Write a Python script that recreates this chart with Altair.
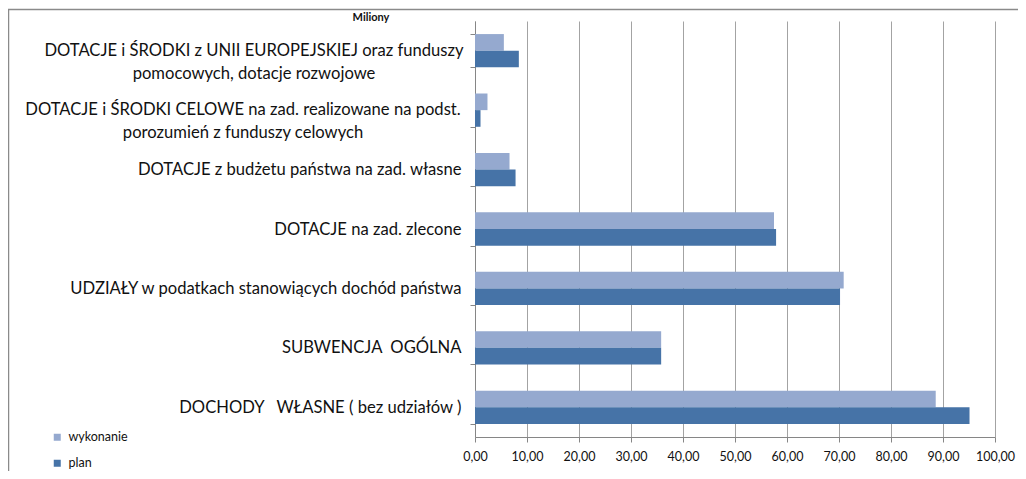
import altair as alt
import pandas as pd

categories = [
    "DOTACJE i ŚRODKI z UNII EUROPEJSKIEJ oraz funduszy|pomocowych, dotacje rozwojowe",
    "DOTACJE i ŚRODKI CELOWE na zad. realizowane na podst.|porozumień z funduszy celowych",
    "DOTACJE z budżetu państwa na zad. własne\u00a0",
    "DOTACJE na zad. zlecone",
    "UDZIAŁY w podatkach stanowiących dochód państwa",
    "SUBWENCJA\u00a0 OGÓLNA\u00a0",
    "DOCHODY\u00a0\u00a0 WŁASNE ( bez udziałów )",
]
series = ["wykonanie", "plan"]
wykonanie = [5.55, 2.4, 6.64, 57.5, 70.9, 35.8, 88.6]
plan = [8.43, 1.06, 7.8, 57.9, 70.2, 35.8, 95.1]
x_ticks = list(range(0, 101, 10))
unit_label = ["Miliony"]

rows = []
for c, w, p in zip(categories, wykonanie, plan):
    rows.append({"cat": c, "series": "wykonanie", "value": w})
    rows.append({"cat": c, "series": "plan", "value": p})
df = pd.DataFrame(rows)

FONT = "Lato"
FS = 16.6
TXT = "#111111"
AXC = "#868686"

y_axis = alt.Axis(
    labelExpr="indexof(datum.label, '|') >= 0 ? '' : datum.label",
    labelAlign="right", labelBaseline="middle", labelFont=FONT, labelFontSize=FS,
    labelColor=TXT, labelPadding=9, tickSize=5, tickBand="extent", tickColor=AXC,
    domainColor=AXC, labelLimit=0, grid=False, title=None,
)
y_scale = alt.Scale(paddingInner=0.44, paddingOuter=0.22)

bars = alt.Chart(df).mark_bar().encode(
    x=alt.X(
        "value:Q",
        scale=alt.Scale(domain=[0, 100], nice=False, zero=True),
        title=None,
        axis=alt.Axis(
            values=x_ticks,
            labelExpr="replace(format(datum.value, '.2f'), '.', ',')",
            labelOverlap=False, labelFlush=False,
            grid=True, gridColor="#a3a3a3", tickColor=AXC, domainColor=AXC,
            tickSize=5, labelPadding=8, labelFont=FONT, labelFontSize=12.5,
            labelColor=TXT,
        ),
    ),
    y=alt.Y("cat:N", sort=categories, title=None, scale=y_scale, axis=y_axis),
    yOffset=alt.YOffset("series:N", sort=series,
                        scale=alt.Scale(paddingInner=0, paddingOuter=0)),
    color=alt.Color(
        "series:N", sort=series,
        scale=alt.Scale(domain=series, range=["#95A9CF", "#4673A7"]),
        legend=alt.Legend(
            title=None, orient="none", legendX=-424, legendY=410,
            symbolType="square", symbolSize=49, symbolStrokeWidth=0,
            labelFont=FONT, labelFontSize=12.5, labelColor=TXT,
            rowPadding=13, labelOffset=5, padding=0,
        ),
    ),
)

lab = pd.DataFrame({"cat": categories})


def multiline(idx, xpos):
    return alt.Chart(lab).transform_filter(
        alt.datum.cat == categories[idx]
    ).mark_text(
        align="center", baseline="middle", lineBreak="|", lineHeight=23,
        font=FONT, fontSize=FS, color=TXT,
    ).encode(
        y=alt.Y("cat:N", sort=categories, title=None),
        x=alt.value(xpos),
        text="cat:N",
    )


ml1 = multiline(0, -221)
ml2 = multiline(1, -232)

unit = alt.Chart(pd.DataFrame({"t": unit_label})).mark_text(
    font=FONT, fontSize=11, fontWeight="bold", align="center",
    baseline="alphabetic", color=TXT,
).encode(x=alt.value(-104), y=alt.value(0), text="t:N")

frame = alt.Chart(pd.DataFrame({"a": [0]})).mark_rect(
    fill="transparent", stroke="#8a8a8a", strokeWidth=1.5
).encode(x=alt.value(-466.5), x2=alt.value(700), y=alt.value(-11.5), y2=alt.value(600))

chart = alt.layer(frame, bars, ml1, ml2, unit).properties(
    width=520, height=416,
    autosize=alt.AutoSizeParams(type="none"),
    padding={"left": 467, "top": 13, "right": 23, "bottom": 34},
).configure_view(strokeWidth=0)

chart.save("out.html", embed_options={"renderer": "svg", "actions": False})
